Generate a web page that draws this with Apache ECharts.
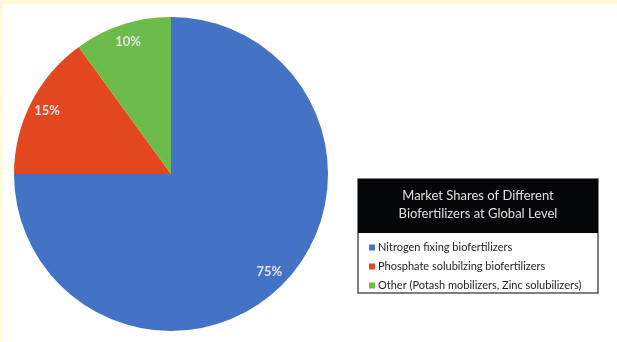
<!DOCTYPE html>
<html>
<head>
<meta charset="utf-8">
<script src="https://cdn.jsdelivr.net/npm/echarts@6/dist/echarts.min.js"></script>
<style>
  html, body { margin: 0; padding: 0; background: #fff; }
  #chart { width: 617px; height: 342px; }
</style>
</head>
<body>
<div id="chart"></div>
<script>
const categories = [
  'Nitrogen fixing biofertilizers',
  'Phosphate solubilzing biofertilizers',
  'Other (Potash mobilizers, Zinc solubilizers)',
]
const shares = [75, 15, 10]
const colors = ['#4472C4', '#E2471F', '#6DBB4A']
const titleLines = ['Market Shares of Different', 'Biofertilizers at Global Level']

const font = 'Lato, "Open Sans", sans-serif'
const pieData = categories.map((name, i) => ({ name, value: shares[i] }))

const chart = echarts.init(document.getElementById('chart'))

chart.setOption({
  backgroundColor: '#fff',
  animation: false,
  color: colors,
  legend: {
    orient: 'vertical',
    left: 364,
    top: 237,
    icon: 'rect',
    itemWidth: 6,
    itemHeight: 6,
    itemGap: 8,
    selectedMode: false,
    data: categories,
    textStyle: { fontFamily: font, fontSize: 11, color: '#222', padding: [0, 0, 0, -2] },
  },
  graphic: [
    { type: 'rect', shape: { x: 0, y: 0, width: 617, height: 4 }, style: { fill: '#FFFADA' } },
    { type: 'rect', shape: { x: 0, y: 0, width: 3, height: 342 }, style: { fill: '#FFFADA' } },
    {
      type: 'rect',
      shape: { x: 358, y: 179, width: 240, height: 114 },
      style: { fill: '#fff', stroke: '#555', lineWidth: 1.5 },
      z: -1,
    },
    { type: 'rect', shape: { x: 358, y: 179, width: 240, height: 54 }, style: { fill: '#050608' } },
    {
      type: 'text',
      x: 478,
      y: 205,
      style: {
        text: titleLines.join('\n'),
        fill: '#e0e0e0',
        font: '13px ' + font,
        lineHeight: 18,
        align: 'center',
        verticalAlign: 'middle',
      },
    },
  ],
  series: [
    {
      type: 'pie',
      center: [171, 174],
      radius: [0, 157],
      startAngle: 90,
      clockwise: true,
      data: pieData,
      label: { show: false },
      labelLine: { show: false },
      emphasis: { disabled: true },
    },
    {
      // transparent ring only used to place the percentage labels
      type: 'pie',
      center: [171, 174],
      radius: [116, 156],
      startAngle: 90,
      clockwise: true,
      silent: true,
      data: pieData,
      itemStyle: { color: 'transparent' },
      label: {
        show: true,
        position: 'inside',
        formatter: '{c}%',
        fontFamily: font,
        fontSize: 13,
        fontWeight: 'bold',
        color: '#e4e4e4',
      },
      labelLine: { show: false },
    },
  ],
})
</script>
</body>
</html>
